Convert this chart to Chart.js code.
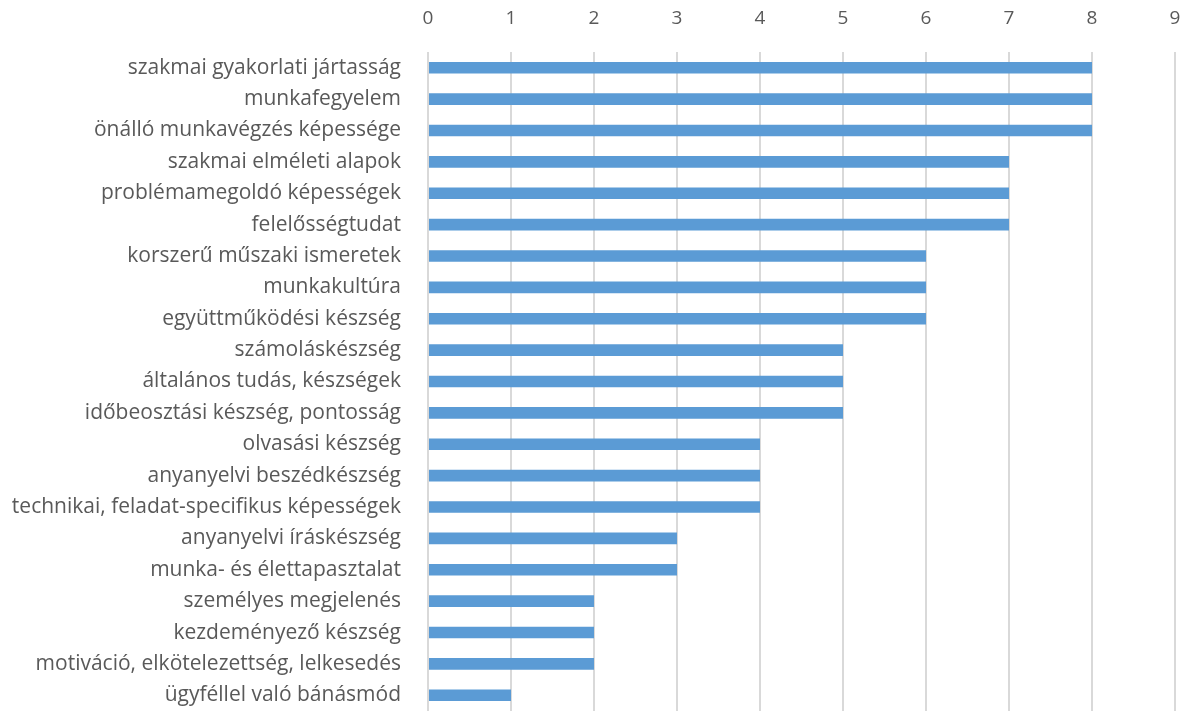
<!DOCTYPE html>
<html>
<head>
<meta charset="utf-8">
<script src="https://cdn.jsdelivr.net/npm/chart.js@4/dist/chart.umd.min.js"></script>
<style>
  html, body { margin: 0; padding: 0; background: #fff; }
  #wrap { width: 1192px; height: 713px; }
</style>
</head>
<body>
<div id="wrap"><canvas id="chart" width="1192" height="713"></canvas></div>
<script>
// Skills ranking - horizontal bars, axis on top
const categories = [
  'szakmai gyakorlati jártasság',
  'munkafegyelem',
  'önálló munkavégzés képessége',
  'szakmai elméleti alapok',
  'problémamegoldó képességek',
  'felelősségtudat',
  'korszerű műszaki ismeretek',
  'munkakultúra',
  'együttműködési készség',
  'számoláskészség',
  'általános tudás, készségek',
  'időbeosztási készség, pontosság',
  'olvasási készség',
  'anyanyelvi beszédkészség',
  'technikai, feladat-specifikus képességek',
  'anyanyelvi íráskészség',
  'munka- és élettapasztalat',
  'személyes megjelenés',
  'kezdeményező készség',
  'motiváció, elkötelezettség, lelkesedés',
  'ügyféllel való bánásmód'
];
const values = [8, 8, 8, 7, 7, 7, 6, 6, 6, 5, 5, 5, 4, 4, 4, 3, 3, 2, 2, 2, 1];
const xMin = 0;
const xMax = 9;

const FONT = "'Open Sans', sans-serif";
const TEXT = '#595959';

new Chart(document.getElementById('chart'), {
  type: 'bar',
  data: {
    labels: categories,
    datasets: [{
      data: values,
      backgroundColor: '#5B9BD5',
      borderWidth: 0,
      barPercentage: 0.74,
      categoryPercentage: 0.5
    }]
  },
  options: {
    indexAxis: 'y',
    responsive: false,
    animation: false,
    layout: { padding: { left: 0, right: 17, top: 0, bottom: 2 } },
    plugins: {
      legend: { display: false },
      tooltip: { enabled: false }
    },
    scales: {
      x: {
        position: 'top',
        min: xMin,
        max: xMax,
        ticks: {
          stepSize: 1,
          color: TEXT,
          font: { family: FONT, size: 19 },
          padding: 22
        },
        grid: { color: '#D9D9D9', lineWidth: 2, drawTicks: false },
        border: { display: false },
        afterFit(scale) {
          scale.height = 52;
          scale.paddingLeft = 0;
          scale.paddingRight = 0;
        }
      },
      y: {
        ticks: {
          color: TEXT,
          font: { family: FONT, size: 21 },
          padding: 27,
          autoSkip: false
        },
        grid: { display: false, drawTicks: false },
        border: { display: false },
        afterFit(scale) {
          // label padding shouldn't eat into the plot height
          scale.width = 428;
          scale.paddingTop = 0;
          scale.paddingBottom = 0;
        }
      }
    }
  }
});
</script>
</body>
</html>
